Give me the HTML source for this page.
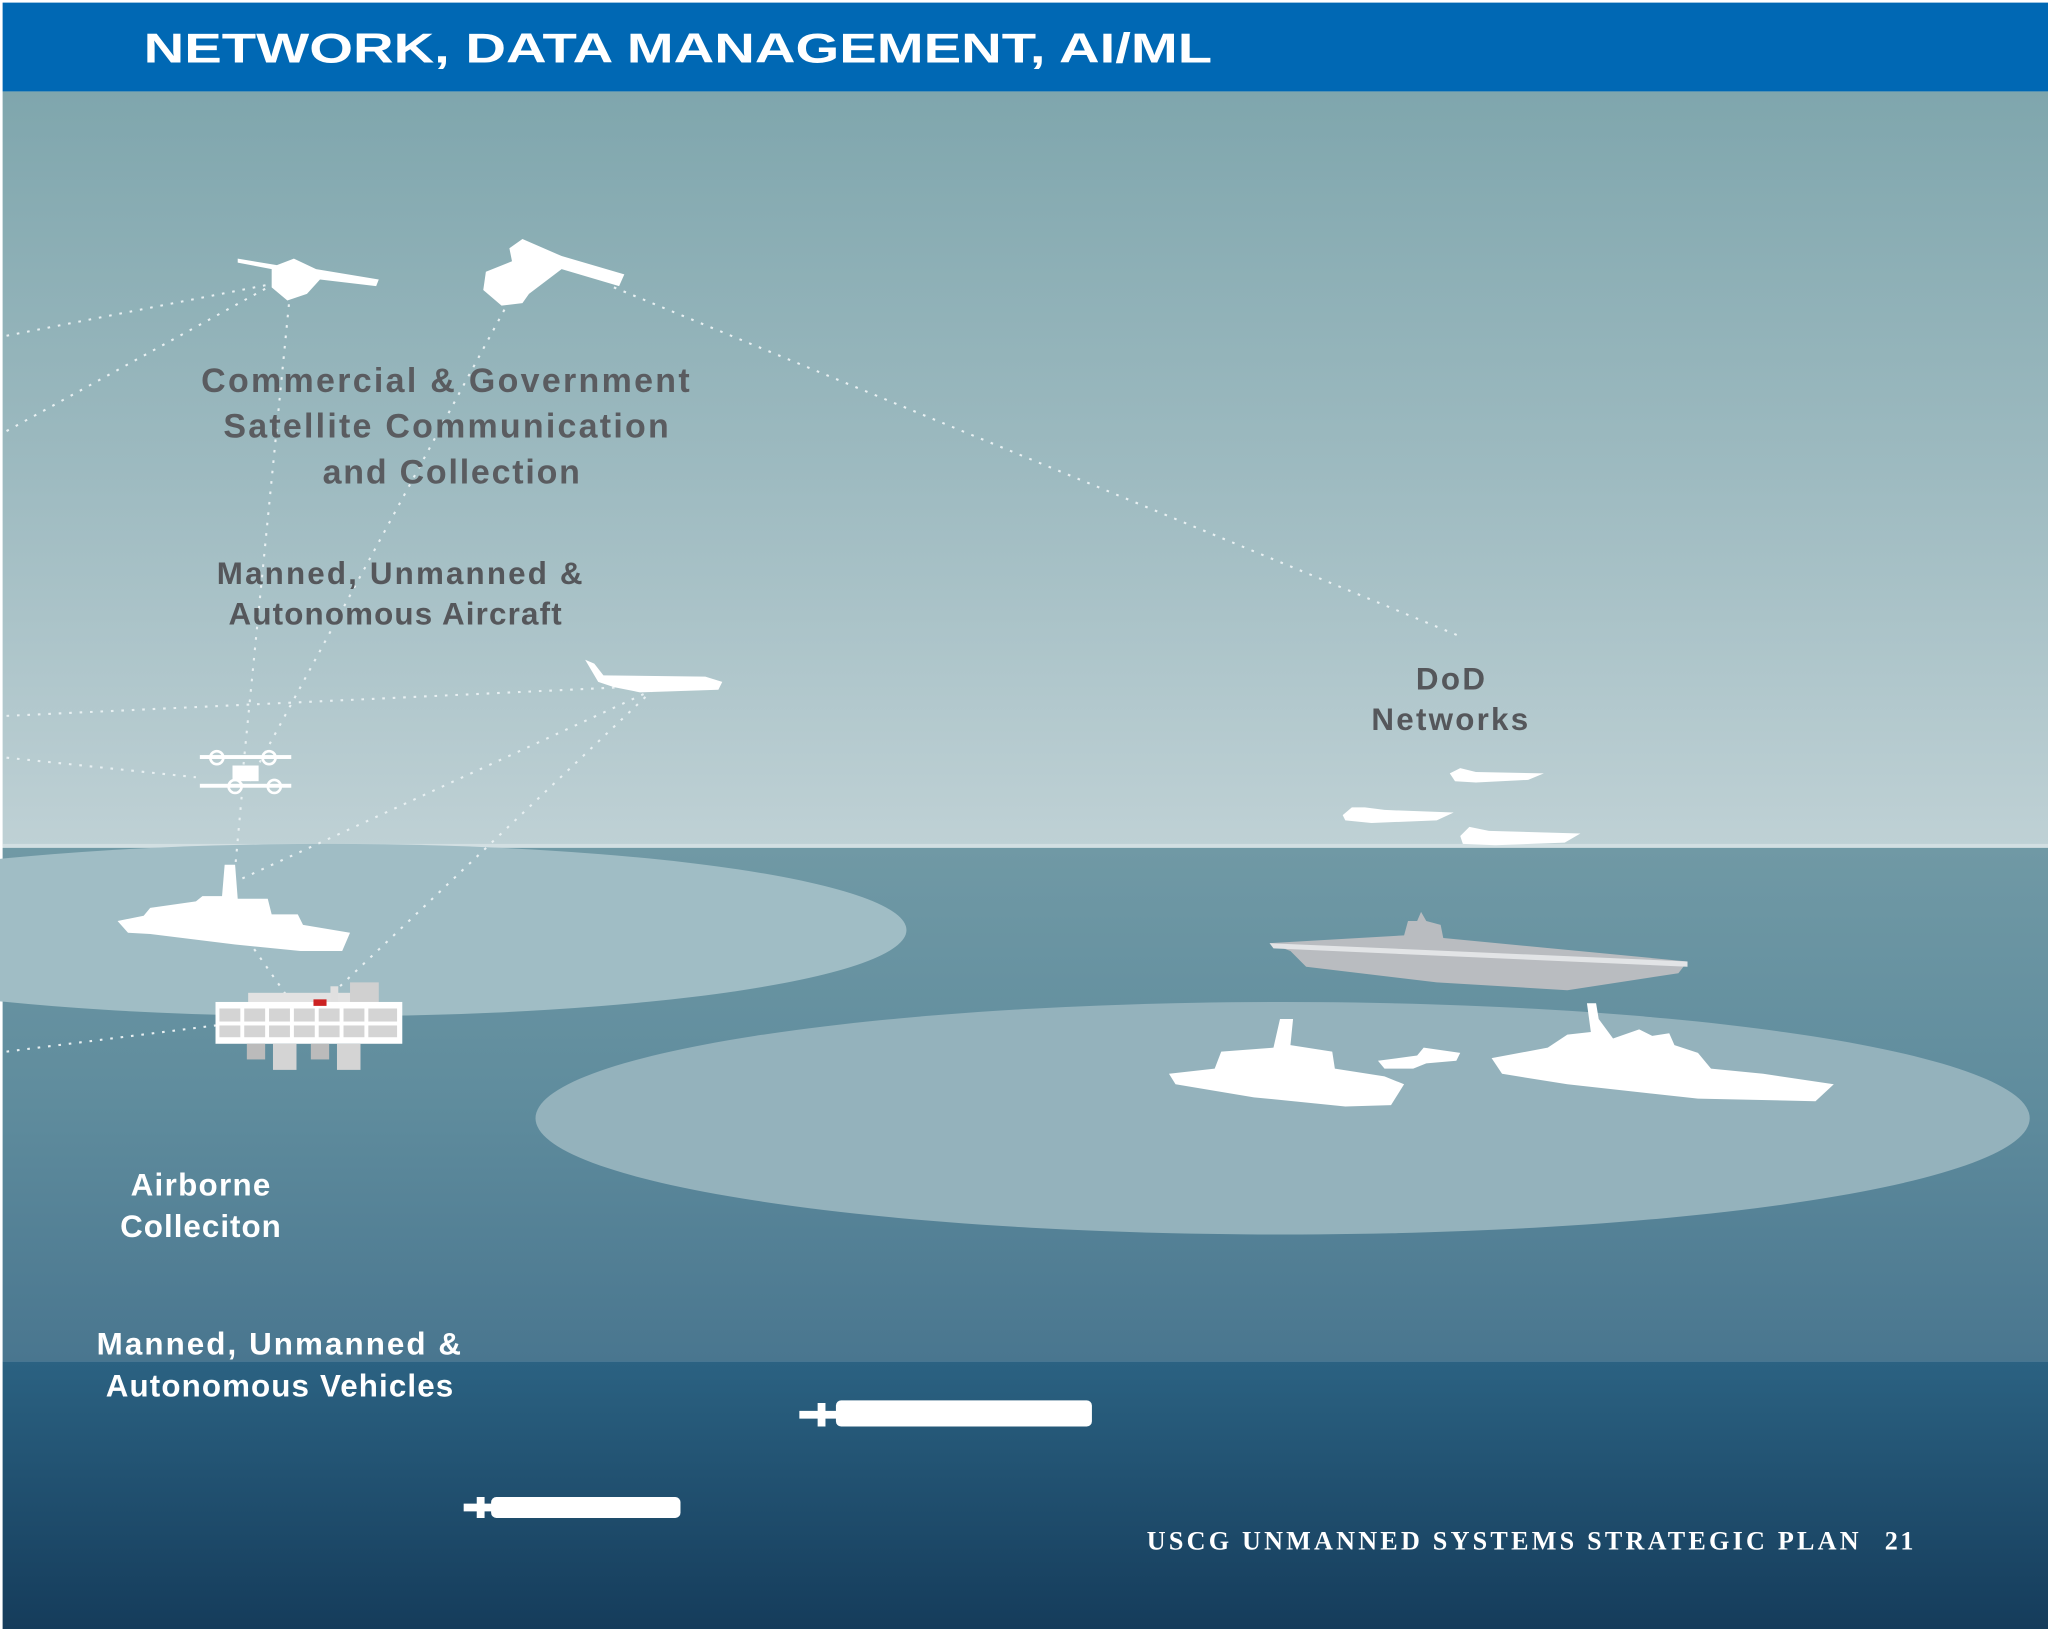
<!DOCTYPE html>
<html><head><meta charset="utf-8"><style>
html,body{margin:0;padding:0;width:2048px;height:1629px;overflow:hidden}
svg{display:block}
</style></head><body>
<svg width="2048" height="1629" viewBox="0 0 1568 1247" preserveAspectRatio="none" xmlns="http://www.w3.org/2000/svg">
<defs>
<linearGradient id="sky" x1="0" y1="0" x2="0" y2="1">
<stop offset="0" stop-color="#7fa6ad"/><stop offset="0.5" stop-color="#9dbac0"/><stop offset="1" stop-color="#bfd1d5"/></linearGradient>
<linearGradient id="sea" x1="0" y1="0" x2="0" y2="1">
<stop offset="0" stop-color="#7099a5"/><stop offset="0.5" stop-color="#5f8c9d"/><stop offset="1" stop-color="#49768f"/></linearGradient>
<linearGradient id="deep" x1="0" y1="0" x2="0" y2="1">
<stop offset="0" stop-color="#2b6282"/><stop offset="1" stop-color="#153c5b"/></linearGradient>
</defs>
<rect x="0" y="0" width="1568" height="1247" fill="#fff"/>
<rect x="2" y="2" width="1566" height="68" fill="#0068b4"/>
<rect x="2" y="70" width="1566" height="578" fill="url(#sky)"/>
<rect x="2" y="646" width="1566" height="3" fill="#d2dfe2"/>
<rect x="2" y="649" width="1566" height="393" fill="url(#sea)"/>
<rect x="2" y="1042" width="1566" height="205" fill="url(#deep)"/>
<ellipse cx="250" cy="712" rx="444" ry="66" fill="#a0bdc5"/>
<ellipse cx="982" cy="856" rx="572" ry="89" fill="#94b2bc"/>
<text x="110" y="48" font-family="Liberation Sans, sans-serif" font-weight="bold" font-size="32" fill="#fff" textLength="818" lengthAdjust="spacingAndGlyphs">NETWORK, DATA MANAGEMENT, AI/ML</text>
<g stroke="#e8f0f2" stroke-width="1.6" stroke-dasharray="2,6" fill="none">
<line x1="5" y1="257" x2="205" y2="218"/>
<line x1="5" y1="330" x2="205" y2="220"/>
<line x1="222" y1="225" x2="185" y2="600"/>
<line x1="390" y1="230" x2="190" y2="600"/>
<line x1="470" y1="220" x2="1120" y2="488"/>
<line x1="5" y1="548" x2="500" y2="525"/>
<line x1="5" y1="580" x2="150" y2="595"/>
<line x1="500" y1="528" x2="180" y2="675"/>
<line x1="500" y1="528" x2="255" y2="760"/>
<line x1="185" y1="610" x2="180" y2="665"/>
<line x1="190" y1="720" x2="225" y2="770"/>
<line x1="5" y1="805" x2="165" y2="785"/>
</g>
<g fill="#fff">
<polygon points="182,198 212,203 225,198 242,206 290,214 288,219 245,214 235,225 220,230 208,220 208,206 182,201"/>
<polygon points="390,190 400,183 430,196 478,210 474,219 430,206 405,225 400,232 384,234 370,222 372,208 392,200"/>
<polygon points="448,505 455,508 462,517 540,518 553,522 550,528 490,530 470,526 458,522"/>
<g transform="translate(188,592)"><rect x="-10" y="-6" width="20" height="12"/><rect x="-35" y="-14" width="70" height="3"/><rect x="-35" y="8" width="70" height="3"/><circle cx="-8" cy="10" r="5" fill="none" stroke="#fff" stroke-width="2"/><circle cx="22" cy="10" r="5" fill="none" stroke="#fff" stroke-width="2"/><circle cx="-22" cy="-12" r="5" fill="none" stroke="#fff" stroke-width="2"/><circle cx="18" cy="-12" r="5" fill="none" stroke="#fff" stroke-width="2"/></g>
<polygon points="90,705 110,701 115,695 150,690 155,686 170,686 172,662 180,662 182,688 205,688 208,700 228,700 232,708 268,714 262,728 230,728 180,723 115,715 98,714"/>
<polygon points="1028,624 1035,618 1045,618 1060,620 1113,622 1100,628 1050,630 1030,628"/>
<polygon points="1110,592 1118,588 1130,591 1182,592 1170,597 1130,599 1114,598"/>
<polygon points="1118,640 1125,633 1140,636 1210,638 1198,645 1145,647 1120,646"/>
<polygon points="895,822 930,818 935,805 975,802 980,780 990,780 988,800 1020,805 1022,818 1060,824 1075,830 1065,846 1030,847 960,840 900,830"/>
<polygon points="1055,812 1085,808 1090,802 1118,806 1115,812 1092,814 1082,818 1060,818"/>
<polygon points="1142,810 1185,802 1200,792 1218,790 1215,768 1222,768 1224,780 1235,795 1255,788 1265,793 1278,791 1282,800 1300,806 1310,818 1350,822 1404,830 1390,843 1300,841 1200,830 1150,822"/>
<rect x="640" y="1072" width="196" height="20" rx="4"/>
<polygon points="612,1080 626,1080 626,1074 632,1074 632,1080 642,1080 642,1086 632,1086 632,1092 626,1092 626,1086 612,1086"/>
<rect x="376" y="1146" width="145" height="16" rx="4"/>
<polygon points="355,1151 365,1151 365,1146 371,1146 371,1151 378,1151 378,1157 371,1157 371,1162 365,1162 365,1157 355,1157"/>
</g>
<polygon points="972,722 1075,716 1078,705 1085,705 1088,698 1092,705 1103,708 1105,718 1292,736 1285,745 1200,758 1100,752 1000,740 988,728" fill="#b9bcc0"/>
<polygon points="972,722 1292,736 1292,740 975,726" fill="#e2e4e6"/>
<g>
<rect x="190" y="760" width="82" height="12" fill="#e2e2e2"/>
<rect x="268" y="752" width="22" height="20" fill="#d0d0d0"/>
<rect x="253" y="755" width="6" height="17" fill="#e0e0e0"/>
<rect x="165" y="767" width="143" height="32" fill="#fff"/>
<g fill="#d4d4d4">
<rect x="168" y="772" width="16" height="10"/><rect x="187" y="772" width="16" height="10"/><rect x="206" y="772" width="16" height="10"/><rect x="225" y="772" width="16" height="10"/><rect x="244" y="772" width="16" height="10"/><rect x="263" y="772" width="16" height="10"/><rect x="282" y="772" width="22" height="10"/>
<rect x="168" y="785" width="16" height="9"/><rect x="187" y="785" width="16" height="9"/><rect x="206" y="785" width="16" height="9"/><rect x="225" y="785" width="16" height="9"/><rect x="244" y="785" width="16" height="9"/><rect x="263" y="785" width="16" height="9"/><rect x="282" y="785" width="22" height="9"/>
</g>
<rect x="240" y="765" width="10" height="5" fill="#cc2222"/>
<rect x="189" y="799" width="14" height="12" fill="#bbb"/><rect x="209" y="799" width="18" height="20" fill="#d4d4d4"/><rect x="238" y="799" width="14" height="12" fill="#bbb"/><rect x="258" y="799" width="18" height="20" fill="#d4d4d4"/>
</g>
<g font-family="Liberation Sans, sans-serif" font-weight="bold" lengthAdjust="spacingAndGlyphs">
<g fill="#5a5c60" font-size="26">
<text x="154" y="300" textLength="374">Commercial &amp; Government</text>
<text x="171" y="335" textLength="341">Satellite Communication</text>
<text x="247" y="370" textLength="197">and Collection</text>
</g>
<g fill="#55575b" font-size="24">
<text x="166" y="447" textLength="280">Manned, Unmanned &amp;</text>
<text x="175" y="478" textLength="255">Autonomous Aircraft</text>
<text x="1084" y="528" textLength="53">DoD</text>
<text x="1050" y="559" textLength="120">Networks</text>
</g>
<g fill="#fff" font-size="24">
<text x="100" y="915" textLength="107">Airborne</text>
<text x="92" y="947" textLength="123">Colleciton</text>
<text x="74" y="1037" textLength="279">Manned, Unmanned &amp;</text>
<text x="81" y="1069" textLength="266">Autonomous Vehicles</text>
</g>
</g>
<g font-family="Liberation Serif, serif" font-weight="bold" font-size="20" fill="#fff" lengthAdjust="spacingAndGlyphs">
<text x="878" y="1186" textLength="545">USCG UNMANNED SYSTEMS STRATEGIC PLAN</text>
<text x="1443" y="1186" textLength="22">21</text>
</g>
</svg>
</body></html>
